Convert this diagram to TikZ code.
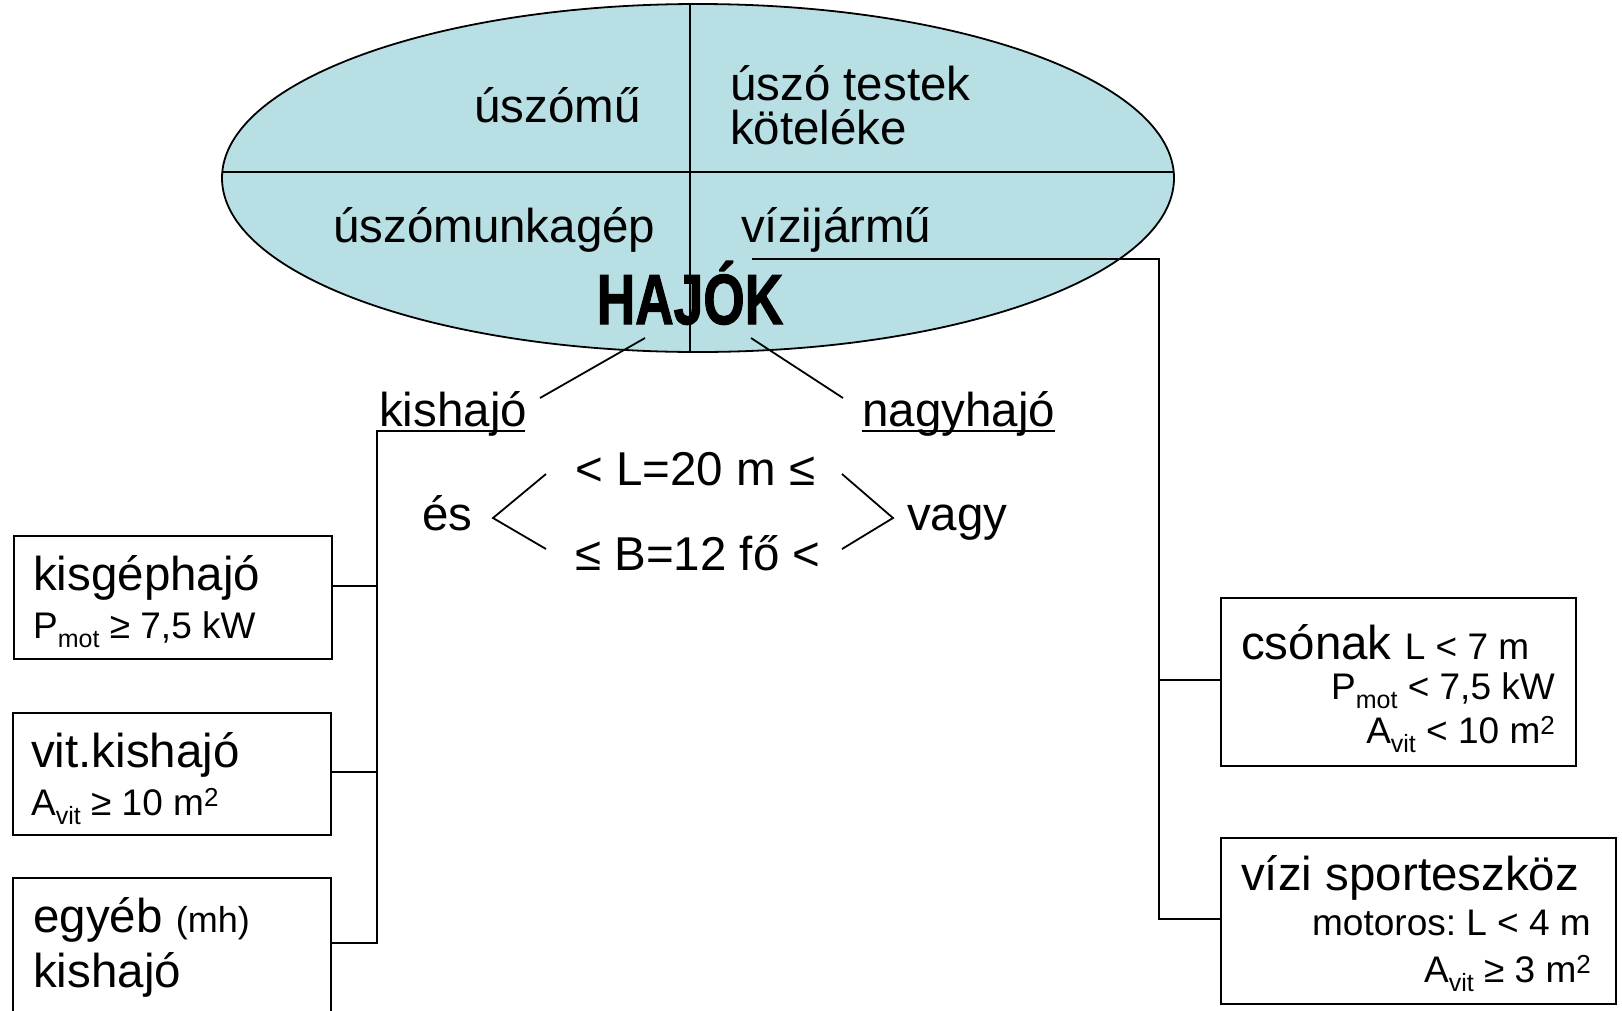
\documentclass[tikz,border=0pt]{standalone}
\usepackage{fontspec}
\setmainfont{Liberation Sans}
\newfontfamily\hajofont[FakeBold=1.8]{Liberation Sans Bold}
\usetikzlibrary{shapes.geometric}
\definecolor{ellfill}{RGB}{184,223,227}
\frenchspacing
\newcommand{\lo}[1]{\smash{\raisebox{-9pt}{\fontsize{25}{25}\selectfont #1}}}
\newcommand{\hi}[1]{\smash{\raisebox{9pt}{\fontsize{26}{26}\selectfont #1}}}
\tikzset{
  txt/.style={inner sep=0pt, font=\fontsize{47.5}{52}\selectfont},
  smalltxt/.style={inner sep=0pt, font=\fontsize{37}{42}\selectfont},
  boxnode/.style={draw, line width=1.8pt, inner sep=0pt, anchor=north west},
  conn/.style={line width=1.8pt},
}
\begin{document}
\begin{tikzpicture}[x=1pt,y=-1pt]
\useasboundingbox (0,0) rectangle (1622,1010);
% ellipse
\node[ellipse, fill=ellfill, minimum width=952pt, minimum height=348pt, inner sep=0pt] (ell) at (698,178) {};
\begin{scope}
  \clip (698,178) ellipse [x radius=476, y radius=174];
  \draw[conn] (200,172) -- (1200,172);
  \draw[conn] (690,0) -- (690,360);
\end{scope}
\draw[conn] (698,178) ellipse [x radius=476, y radius=174];
% ellipse texts
\node[txt, anchor=base west] (uszomu) at (474,122) {úszómű};
\node[txt, anchor=base west] (uszotest) at (730,100) {úszó testek};
\node[txt, anchor=base west] (kotel) at (730,144) {köteléke};
\node[txt, anchor=base west] (uszomunk) at (333,242) {úszómunkagép};
\node[txt, anchor=base west] (vizi) at (741,242) {vízijármű};
\node[anchor=base, inner sep=0pt] (hajok) at (690,324) {\hajofont\fontsize{71}{71}\selectfont\scalebox{0.75}[1]{HAJÓK}};
% kishajo / nagyhajo
\node[txt, anchor=base west] (kishajo) at (379,426) {kishajó};
\node[txt, anchor=base west] (nagy) at (862,426) {nagyhajó};
\coordinate (hajL) at (645,338);
\coordinate (kisL) at (540,398);
\coordinate (hajR) at (751,338);
\coordinate (nagyR) at (843,398);
\draw[conn] (hajL) -- (kisL);
\draw[conn] (hajR) -- (nagyR);
\draw[conn] ([yshift=-5pt]nagy.base west) -- ([yshift=-5pt]nagy.base east);
% middle
\node[txt, anchor=base west] (Lrow) at (575,485) {< L=20 m ≤};
\node[txt, anchor=base west] (Brow) at (575,570) {≤ B=12 fő <};
\node[txt, anchor=base west] (es) at (422,530) {és};
\node[txt, anchor=base west] (vagy) at (907,530) {vagy};
\coordinate (cl1) at (546,474);
\coordinate (cl2) at (493,518);
\coordinate (cl3) at (546,549);
\coordinate (cr1) at (842,474);
\coordinate (cr2) at (893,518);
\coordinate (cr3) at (842,549);
\draw[conn] (cl1) -- (cl2) -- (cl3);
\draw[conn] (cr1) -- (cr2) -- (cr3);
% left boxes
\node[boxnode, minimum width=318pt, minimum height=123pt] (kisbox) at (13,535) {};
\node[boxnode, minimum width=318pt, minimum height=122pt] (vitbox) at (12,712) {};
\node[boxnode, minimum width=318pt, minimum height=170pt] (egybox) at (12,877) {};
\node[txt, anchor=base west] (kisgep) at (33,590) {kisgéphajó};
\node[smalltxt, anchor=base west] (pmot1) at (33,638) {P\lo{mot} ≥ 7,5 kW};
\node[txt, anchor=base west] (vit) at (31,767) {vit.kishajó};
\node[smalltxt, anchor=base west] (avit1) at (31,815) {A\lo{vit} ≥ 10 m\hi{2}};
\node[txt, anchor=base west] (egyeb) at (33,932) {egyéb {\fontsize{36}{36}\selectfont (mh)}};
\node[txt, anchor=base west] (kishajo2) at (33,987) {kishajó};
% left bus
\coordinate (kisUL) at (377,431);
\coordinate (kisUR) at (525,431);
\coordinate (b1) at (377,586);
\coordinate (b2) at (377,772);
\coordinate (b3) at (377,943);
\draw[conn] (kisUR) -- (kisUL) -- (b3) -- (b3 -| egybox.east);
\draw[conn] (b1) -- (b1 -| kisbox.east);
\draw[conn] (b2) -- (b2 -| vitbox.east);
% right boxes
\node[boxnode, minimum width=355pt, minimum height=168pt] (csbox) at (1220,597) {};
\node[boxnode, minimum width=395pt, minimum height=166pt] (vizbox) at (1220,837) {};
\node[txt, anchor=base west] (csonak) at (1241,659) {csónak {\fontsize{37}{37}\selectfont L < 7 m}};
\node[smalltxt, anchor=base east] (pmot2) at (1555,699) {P\lo{mot} < 7,5 kW};
\node[smalltxt, anchor=base east] (avit2) at (1555,743) {A\lo{vit} < 10 m\hi{2}};
\node[txt, anchor=base west] (sport) at (1241,890) {vízi sporteszköz};
\node[smalltxt, anchor=base east] (motor) at (1591,935) {motoros: L < 4 m};
\node[smalltxt, anchor=base east] (avit3) at (1591,982) {A\lo{vit} ≥ 3 m\hi{2}};
% right bus
\coordinate (vizU) at (752,259);
\coordinate (rb) at (1159,259);
\coordinate (r1) at (1159,680);
\coordinate (r2) at (1159,919);
\draw[conn] (vizU) -- (rb) -- (r2) -- (r2 -| vizbox.west);
\draw[conn] (r1) -- (r1 -| csbox.west);
\end{tikzpicture}
\end{document}
